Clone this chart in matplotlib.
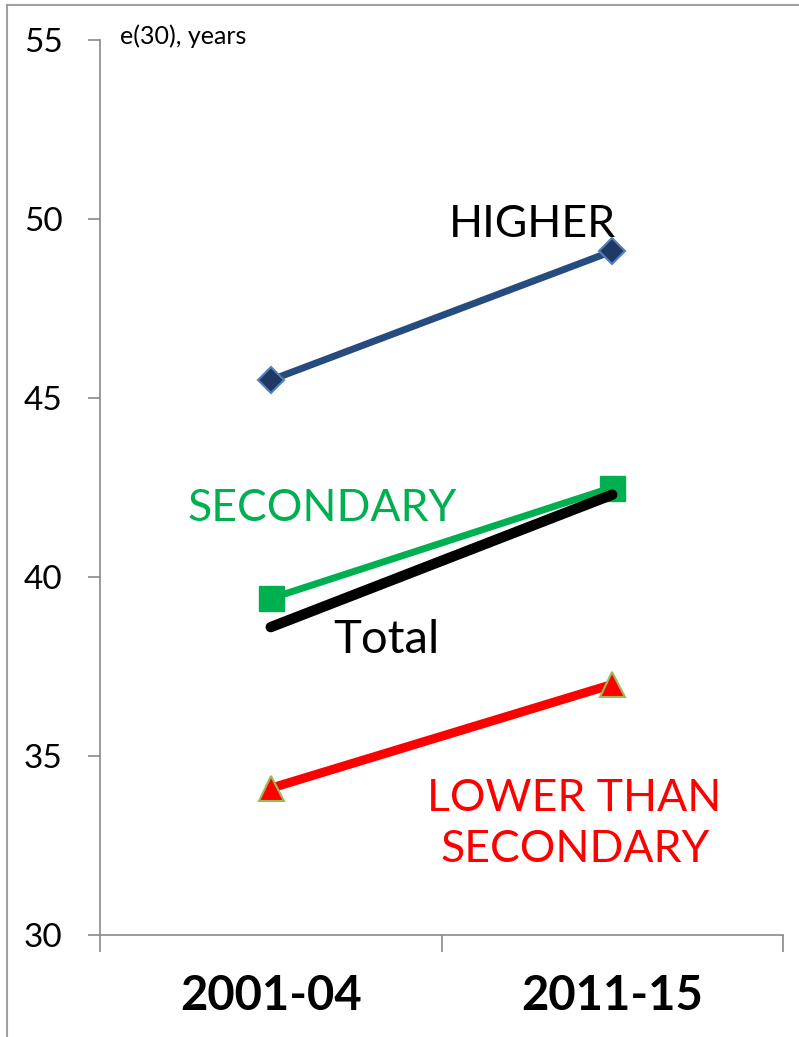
import matplotlib
matplotlib.use("Agg")
import matplotlib.pyplot as plt
from matplotlib.lines import Line2D

periods = ["2001-04", "2011-15"]
higher = [45.5, 49.1]
secondary = [39.4, 42.5]
total = [38.6, 42.3]
lower = [34.1, 37.0]
y_ticks = [30, 35, 40, 45, 50, 55]

plt.rcParams["font.family"] = ["Lato", "DejaVu Sans"]

fig = plt.figure(figsize=(7.99, 10.37), dpi=100)
ax = fig.add_axes([100 / 799, 1 - 935 / 1037, 683 / 799, 895 / 1037])

xs = [0.5, 1.5]
ax.plot(xs, higher, color="#254B7F", lw=5, marker="D", markersize=13,
        markerfacecolor="#1F3864", markeredgecolor="#4F81BD", markeredgewidth=1.5, zorder=3)
ax.plot(xs, secondary, color="#00B050", lw=5, marker="s", markersize=18,
        markerfacecolor="#00B050", markeredgecolor="#00B050", zorder=3)
ax.plot(xs, total, color="black", lw=7.5, solid_capstyle="round", zorder=4)
ax.plot(xs, lower, color="#FF0000", lw=6.5, marker="^", markersize=18,
        markerfacecolor="#FF0000", markeredgecolor="#9BBB59", markeredgewidth=1.5, zorder=3)

# series labels
ax.text(1.265, 49.85, "HIGHER", fontsize=32, color="black", ha="center", va="center")
ax.text(0.65, 41.9, "SECONDARY", fontsize=32, color="#00B050", ha="center", va="center")
ax.text(0.84, 38.25, "Total", fontsize=34, color="black", ha="center", va="center")
ax.text(1.39, 33.1, "LOWER THAN\nSECONDARY", fontsize=32, color="#FF0000",
        ha="center", va="center", linespacing=1.3, multialignment="center")
ax.text(0.06, 55.1, "e(30), years", fontsize=18, color="black", ha="left", va="center")

ax.set_xlim(0, 2)
ax.set_ylim(30, 55)
ax.set_yticks(y_ticks)
ax.set_xticks([0, 1, 2])
ax.set_xticklabels([])
ax.set_xticks(xs, minor=True)
ax.set_xticklabels(periods, minor=True, fontsize=34, fontweight="bold")

for side in ("top", "right"):
    ax.spines[side].set_visible(False)
for side in ("left", "bottom"):
    ax.spines[side].set_color("#898989")
    ax.spines[side].set_linewidth(1.2)

ax.tick_params(axis="y", direction="out", length=9, width=1.2, color="#898989",
               labelsize=24, pad=18)
ax.tick_params(axis="x", which="major", direction="out", length=12, width=1.2, color="#898989")
ax.tick_params(axis="x", which="minor", length=0, pad=28)

# outer frame
frame = dict(color="#A0A0A0", lw=1.5, transform=fig.transFigure)
fig.add_artist(Line2D([7 / 799, 7 / 799], [0, 1 - 5 / 1037], **frame))
fig.add_artist(Line2D([7 / 799, 1], [1 - 5 / 1037, 1 - 5 / 1037], **frame))

fig.savefig("out.png", dpi=100)
